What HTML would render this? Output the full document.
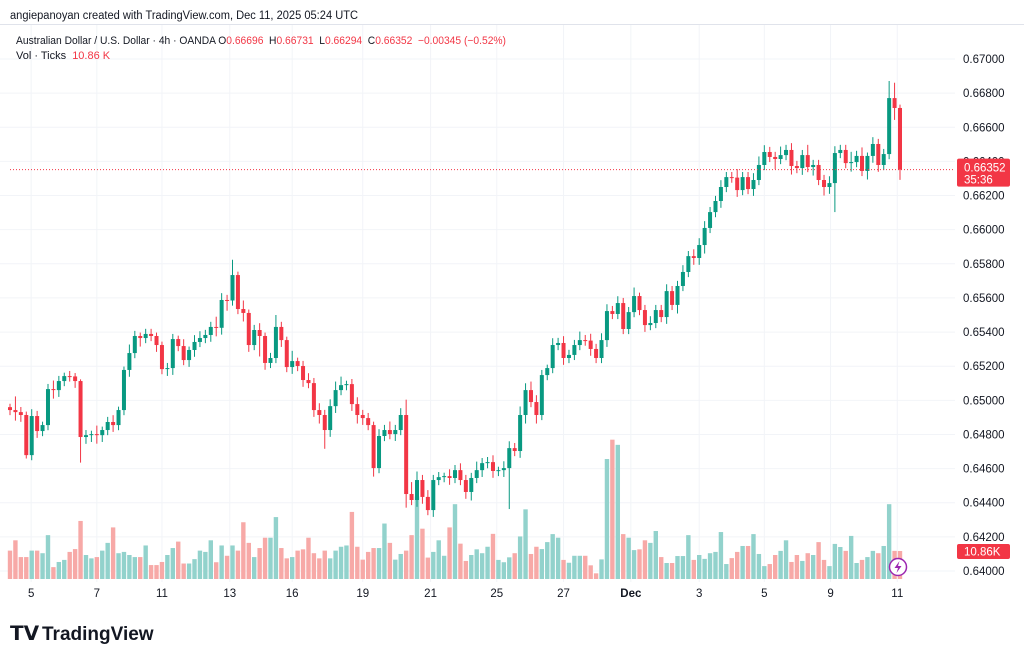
<!DOCTYPE html>
<html><head><meta charset="utf-8">
<style>
html,body{margin:0;padding:0;background:#fff;}
body{width:1024px;height:661px;overflow:hidden;font-family:"Liberation Sans",sans-serif;}
svg text{font-family:"Liberation Sans",sans-serif;}
</style></head>
<body>
<svg id="chart" width="1024" height="661" viewBox="0 0 1024 661" xmlns="http://www.w3.org/2000/svg">
  <rect x="0" y="0" width="1024" height="661" fill="#ffffff"/>
  <text x="10" y="19" font-size="11.5" fill="#131722" textLength="348" lengthAdjust="spacingAndGlyphs">angiepanoyan created with TradingView.com, Dec 11, 2025 05:24 UTC</text>
  <line x1="0" y1="24.5" x2="1024" y2="24.5" stroke="#e0e3eb"/>
  <g id="grid"></g>
  <g id="yaxis"></g>
  <g id="xaxis"></g>
  <g id="vol"></g>
  <g id="candles"></g>
  <line id="lastline" x1="10" x2="955" stroke="#f23645" stroke-width="1" stroke-dasharray="1,2"/>
  <g id="labels"></g>
  <text x="16" y="44" font-size="11" fill="#131722" textLength="490" lengthAdjust="spacingAndGlyphs">Australian Dollar / U.S. Dollar · 4h · OANDA  <tspan fill="#131722">O</tspan><tspan fill="#f23645">0.66696</tspan><tspan dx="6">H</tspan><tspan fill="#f23645">0.66731</tspan><tspan dx="6">L</tspan><tspan fill="#f23645">0.66294</tspan><tspan dx="6">C</tspan><tspan fill="#f23645">0.66352</tspan><tspan dx="6" fill="#f23645">−0.00345 (−0.52%)</tspan></text>
  <text x="16" y="59" font-size="11" fill="#131722">Vol · Ticks <tspan dx="3" fill="#f23645">10.86 K</tspan></text>
  <g>
    <text x="10" y="640" font-size="20" font-weight="bold" fill="#131722">𝗧𝗩</text>
    <text x="42" y="640" font-size="19" font-weight="bold" fill="#131722">TradingView</text>
  </g>
</svg>
<script>
const closes=[0.64943,0.64931,0.64914,0.64679,0.64908,0.64820,0.64855,0.65066,0.65060,0.65113,
0.65142,0.65140,0.65113,0.64785,0.64796,0.64802,0.64796,0.64826,0.64873,0.64855,
0.64943,0.65178,0.65277,0.65377,0.65365,0.65389,0.65377,0.65324,0.65183,0.65189,
0.65359,0.65318,0.65236,0.65295,0.65342,0.65365,0.65383,0.65430,0.65425,0.65588,
0.65585,0.65734,0.65535,0.65512,0.65324,0.65412,0.65377,0.65219,0.65248,0.65430,
0.65353,0.65195,0.65230,0.65201,0.65119,0.65101,0.64943,0.64914,0.64826,0.64966,
0.65060,0.65089,0.65095,0.64978,0.64914,0.64896,0.64855,0.64603,0.64791,0.64826,
0.64802,0.64826,0.64914,0.64451,0.64416,0.64533,0.64434,0.64357,0.64533,0.64550,
0.64556,0.64545,0.64591,0.64533,0.64463,0.64545,0.64591,0.64632,0.64638,0.64586,
0.64591,0.64603,0.64720,0.64703,0.64914,0.65060,0.64990,0.64914,0.65148,0.65189,
0.65324,0.65336,0.65248,0.65266,0.65324,0.65353,0.65350,0.65301,0.65248,0.65353,
0.65523,0.65506,0.65570,0.65418,0.65517,0.65611,0.65529,0.65441,0.65453,0.65529,
0.65488,0.65640,0.65559,0.65670,0.65752,0.65845,0.65834,0.65910,0.66010,0.66103,
0.66168,0.66250,0.66308,0.66305,0.66232,0.66308,0.66238,0.66291,0.66379,0.66455,
0.66426,0.66414,0.66437,0.66467,0.66373,0.66361,0.66437,0.66367,0.66379,0.66291,
0.66250,0.66273,0.66449,0.66467,0.66390,0.66396,0.66432,0.66344,0.66432,0.66502,
0.66379,0.66443,0.66771,0.66713,0.66352];
const firstOpen=0.64960;
const upWick=[2,8,3,2,4,3,2,3,5,3, 2,3,2,1,3,2,5,2,3,4, 2,2,5,3,2,3,3,2,2,3,
3,2,4,2,4,4,3,3,6,4, 3,9,2,5,2,3,4,2,3,7, 3,2,6,2,3,4,3,4,3,4,
5,5,2,3,4,3,3,2,4,3, 5,3,4,9,7,5,3,4,3,3, 2,4,3,4,3,3,5,3,3,4,
2,4,4,3,5,4,5,4,3,2, 4,3,4,3,3,5,3,4,3,4, 4,3,4,3,3,5,2,3,4,3,
3,4,3,3,4,3,4,4,4,3, 3,4,3,3,5,3,3,4,5,4, 3,3,5,3,4,3,3,6,3,3,
3,4,4,3,3,6,3,5,2,4, 3,3,10,9,2];
const dnWick=[3,5,4,2,3,4,3,3,5,4, 3,3,4,15,4,4,5,4,3,4, 3,3,4,3,5,3,3,4,3,4,
4,3,3,4,4,3,3,4,5,4, 6,3,3,5,4,3,12,4,3,3, 4,3,4,3,4,3,4,5,11,4,
4,3,3,4,5,4,3,5,3,3, 3,4,3,8,3,4,4,3,4,3, 3,4,3,3,4,5,3,4,3,4,
3,4,24,3,4,5,3,5,3,3, 3,3,4,3,3,3,3,4,3,3, 4,3,3,3,3,3,3,4,3,3,
3,4,3,5,3,3,4,4,5,3, 3,4,3,3,4,3,3,4,3,3, 3,6,3,3,5,3,4,3,5,3,
5,4,17,3,3,5,3,3,5,4, 4,3,3,7,6];
const volumeK=[11,15,8.5,8.5,11,11,10,17,4.6,6.6,7.4,10.5,11.6,22.5,9.3,8,8.5,11,14,20,10,10.5,9.3,8.5,8.5,13,5.4,5.4,6.6,9.3,
12,14.5,6,6,7.7,11,10.5,15,6.5,13,9,13,11,22,14,8.5,12,16,16,24,12,8,8.5,11,11.5,16,10,8,11,
8,11,12.5,13,26,12.5,7.5,10.5,12,12,21.5,14,7.5,9.7,11,17,32,19.5,8.3,10.5,15,9,20,29,13.7,7,9.3,11.5,10,12.5,17.5,7.4,
6.5,8.4,10,16.5,27,9.7,12.5,11.6,14.3,17.4,16,7.4,6.3,9,9,9,5.3,2.2,7.6,46.5,54,52,17.4,16,11.2,11.5,15,14,
18.6,8.5,6.2,6.2,8.9,8.9,17,7.4,9.3,7.8,10,10.5,18.2,5.8,8.1,10.5,12.8,12.8,17.4,9.7,5,5.8,9.3,10.9,15,6.6,9.3,7,10,9.3,14.3,7.4,5,13.6,12.4,10.9,16.7,6.2,7.4,8.5,10.9,10,12.8,29,10.9,10.86];
const priceTicks=[0.67000,0.66800,0.66600,0.66400,0.66200,0.66000,0.65800,0.65600,0.65400,0.65200,0.65000,0.64800,0.64600,0.64400,0.64200,0.64000];
const dateLabels=["5","7","11","13","16","19","21","25","27","Dec","3","5","9","11"];
const dateIdx=[3.9,16,28,40.5,52,65,77.5,89.7,102,114.4,127,139,151.2,163.5];
const lastPrice=0.66352;
const lastVol="10.86K";

const NS="http://www.w3.org/2000/svg";
const N=closes.length;
const X0=10,X1=900;
const step=(X1-X0)/(N-1);
function xs(i){return X0+i*step;}
function ys(p){return 59+(0.67-p)/0.002*34.133;}
function yv(v){return 579-v*2.58;}
function mk(tag,attrs,parent){const e=document.createElementNS(NS,tag);for(const k in attrs)e.setAttribute(k,attrs[k]);parent.appendChild(e);return e;}

const grid=document.getElementById('grid');
const yaxis=document.getElementById('yaxis');
const xaxis=document.getElementById('xaxis');
priceTicks.forEach(p=>{
  const y=ys(p);
  const gl=mk('line',{x1:0,x2:955,y1:y,y2:y,stroke:'#f2f4f8','stroke-width':1},grid);
  
  
  const t=mk('text',{x:963,y:y+4,'font-size':11.5,fill:'#131722'},yaxis);
  t.textContent=p.toFixed(5);
  
  
});
dateLabels.forEach((d,k)=>{
  const x=xs(dateIdx[k]);
  const gl=mk('line',{x1:x,x2:x,y1:25,y2:582,stroke:'#f2f4f8','stroke-width':1},grid);
  
  
  const t=mk('text',{x:x,y:597,'font-size':11.5,fill:'#131722','text-anchor':'middle','font-weight':d==='Dec'?'bold':'normal'},xaxis);
  t.textContent=d;
  
  
});

const vol=document.getElementById('vol');
const cg=document.getElementById('candles');
for(let i=0;i<N;i++){
  const o=i===0?firstOpen:closes[i-1];
  const c=closes[i];
  const up=c>=o;
  const hi=Math.max(o,c)+upWick[i]*0.0001;
  const lo=Math.min(o,c)-dnWick[i]*0.0001;
  const x=xs(i);
  const col=up?'#089981':'#f23645';
  const v=volumeK[i]!==undefined?volumeK[i]:8;
  const vb=mk('rect',{x:x-2.2,y:yv(v),width:4.4,height:579-yv(v),fill:up?'#92d2cc':'#f7a9a7'},vol);
  
  
  const w=mk('line',{x1:x,x2:x,y1:ys(hi),y2:ys(lo),stroke:col,'stroke-width':1},cg);
  
  
  const yt=ys(Math.max(o,c)),yb=ys(Math.min(o,c));
  const b=mk('rect',{x:x-2,y:yt,width:4,height:Math.max(1,yb-yt),fill:col},cg);
  
  
}

const ll=document.getElementById('lastline');
ll.setAttribute('y1',ys(lastPrice));ll.setAttribute('y2',ys(lastPrice));

const lab=document.getElementById('labels');
const ly=ys(lastPrice);
const pb=mk('g',{},lab);


mk('rect',{x:957,y:ly-11,width:53,height:28,rx:2,fill:'#f23645'},pb);
const t1=mk('text',{x:964,y:ly+2,'font-size':11.5,fill:'#fff'},pb);t1.textContent=lastPrice.toFixed(5);
const t2=mk('text',{x:964,y:ly+14,'font-size':11.5,fill:'#fff'},pb);t2.textContent='35:36';
const vy=yv(volumeK[volumeK.length-1]);
const vbg=mk('g',{},lab);


mk('rect',{x:957,y:vy-7,width:53,height:15,rx:2,fill:'#f23645'},vbg);
const t3=mk('text',{x:964,y:vy+4.5,'font-size':11.5,fill:'#fff'},vbg);t3.textContent=lastVol;
const ic=mk('g',{},lab);


mk('circle',{cx:898,cy:567,r:8.5,fill:'#fff',stroke:'#9c27b0','stroke-width':1.5},ic);
mk('path',{d:'M899.5 561 L894.5 568 L898 568 L896.5 573 L901.5 566 L898 566 Z',fill:'#9c27b0'},ic);
</script>
</body></html>
